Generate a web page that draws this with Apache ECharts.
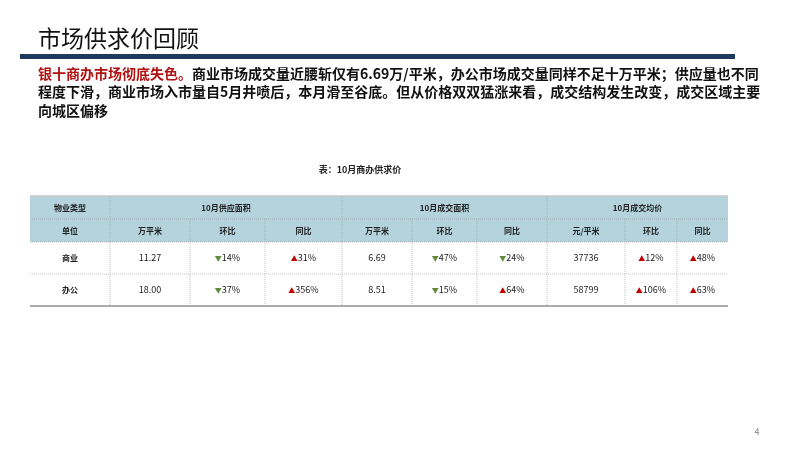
<!DOCTYPE html>
<html><head><meta charset="utf-8">
<script src="https://cdn.jsdelivr.net/npm/echarts@6/dist/echarts.min.js"></script>
<style>html,body{margin:0;background:#fff}#c{width:800px;height:450px}</style>
</head><body><div id="c"></div>
<script>
var title = '市场供求价回顾';
var caption = '表：10月商办供求价';
var groupHeaders = ['物业类型', '10月供应面积', '10月成交面积', '10月成交均价'];
var unitHeaders = ['单位', '万平米', '环比', '同比', '万平米', '环比', '同比', '元/平米', '环比', '同比'];
var categories = ['商业', '办公'];
var supplyArea = ['11.27', '18.00'];
var supplyMoM = [-14, -37];
var supplyYoY = [31, 356];
var dealArea = ['6.69', '8.51'];
var dealMoM = [-47, -15];
var dealYoY = [-24, 64];
var price = ['37736', '58799'];
var priceMoM = [12, 106];
var priceYoY = [48, 63];

var colX = [30, 110, 190, 265, 342, 412, 477, 547, 625, 677, 728];
var rowY = [196, 219, 242, 274, 306];
var groupSpans = [[0,1],[1,4],[4,7],[7,10]];
var F = '"Microsoft YaHei","Noto Sans CJK SC",sans-serif';
var els = [];
function txt(x, y, s, o) {
  els.push({type:'text', x:x, y:y, style:Object.assign({text:s, fill:'#222', font:'bold 8px '+F, align:'center', verticalAlign:'middle'}, o||{})});
}
function line(x1,y1,x2,y2,c,w,dash){els.push({type:'line',shape:{x1:x1,y1:y1,x2:x2,y2:y2},style:{stroke:c,lineWidth:w,lineDash:dash||null}});}
txt(38, 38, title, {font:'23px '+F, align:'left', fill:'#111'});
els.push({type:'rect', shape:{x:20,y:54,width:715,height:5}, style:{fill:'#1f3a5f'}});
els.push({type:'text', x:38, y:64, style:{
  rich:{r:{fill:'#b01010',font:'bold 14px '+F}, b:{fill:'#111',font:'bold 14px '+F}},
  text:'{r|银十商办市场彻底失色。}{b|商业市场成交量近腰斩仅有6.69万/平米，办公市场成交量同样不足十万平米；供应量也不同}\n{b|程度下滑，商业市场入市量自5月井喷后，本月滑至谷底。但从价格双双猛涨来看，成交结构发生改变，成交区域主要}\n{b|向城区偏移}',
  lineHeight:18.5}});
txt(360, 170, caption, {font:'bold 9px '+F});
els.push({type:'rect', shape:{x:colX[0],y:rowY[0],width:colX[10]-colX[0],height:rowY[2]-rowY[0]}, style:{fill:'#b4d3dd'}});
line(colX[0],rowY[0],colX[10],rowY[0],'#c8c8c8',1.5);
groupSpans.forEach(function(s,i){ txt((colX[s[0]]+colX[s[1]])/2,(rowY[0]+rowY[1])/2,groupHeaders[i]); if(i>0) line(colX[s[0]],rowY[0],colX[s[0]],rowY[4],'#999',0.6,[1,1]); });
unitHeaders.forEach(function(u,i){ txt((colX[i]+colX[i+1])/2,(rowY[1]+rowY[2])/2,u); if(i>0 && [1,4,7].indexOf(i)<0) line(colX[i],rowY[1],colX[i],rowY[4],'#999',0.6,[1,1]); });
line(colX[0],rowY[1],colX[10],rowY[1],'#999',0.6,[1,1]);
line(colX[0],rowY[2],colX[10],rowY[2],'#999',0.6,[1,1]);
line(colX[0],rowY[3],colX[10],rowY[3],'#999',0.6,[1,1]);
line(colX[0],rowY[4],colX[10],rowY[4],'#aaa',2);
function pct(v){
  return {rich:{u:{fill:'#c00000',font:'7px '+F},d:{fill:'#5f8a3a',font:'7px '+F},n:{fill:'#222',font:'9px '+F}},
    text:(v>=0?'{u|▲}':'{d|▼}')+'{n|'+Math.abs(v)+'%}'};
}
categories.forEach(function(c,r){
  var y=(rowY[r+2]+rowY[r+3])/2;
  var vals=[c,supplyArea[r],supplyMoM[r],supplyYoY[r],dealArea[r],dealMoM[r],dealYoY[r],price[r],priceMoM[r],priceYoY[r]];
  vals.forEach(function(v,i){
    var x=(colX[i]+colX[i+1])/2;
    if(i===0) txt(x,y,v);
    else if(typeof v==='number'){ var p=pct(v); els.push({type:'text',x:x,y:y,style:{text:p.text,rich:p.rich,align:'center',verticalAlign:'middle'}}); }
    else txt(x,y,v,{font:'9px '+F});
  });
});
txt(757, 432, '4', {font:'9px '+F, fill:'#888'});
var chart = echarts.init(document.getElementById('c'));
chart.setOption({animation:false, graphic:els});
</script></body></html>
